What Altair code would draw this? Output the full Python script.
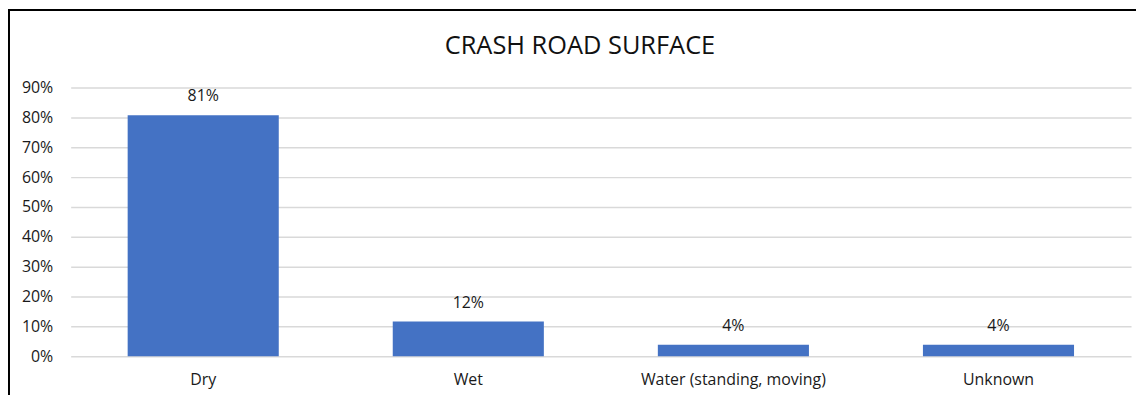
import altair as alt
import pandas as pd

title_text = "CRASH ROAD SURFACE"
categories = ["Dry", "Wet", "Water (standing, moving)", "Unknown"]
shares = [0.807, 0.116, 0.038, 0.038]
y_ticks = [0, 0.1, 0.2, 0.3, 0.4, 0.5, 0.6, 0.7, 0.8, 0.9]

df = pd.DataFrame({"surface": categories, "share": shares})
tdf = pd.DataFrame({"t": [title_text]})

FONT = "Open Sans"
TXT = "#1a1a1a"

x_enc = alt.X(
    "surface:N",
    sort=categories,
    scale=alt.Scale(paddingInner=0.43, paddingOuter=0.215),
    axis=alt.Axis(
        title=None, labelAngle=0, domain=False, ticks=False, labelLimit=0,
        labelPadding=15, labelFont=FONT, labelFontSize=16, labelColor=TXT,
    ),
)
y_enc = alt.Y(
    "share:Q",
    scale=alt.Scale(domain=[0, 0.9], nice=False),
    axis=alt.Axis(
        title=None, values=y_ticks, format=".0%", domain=False, ticks=False,
        labelOverlap=False, labelPadding=18, labelFont=FONT, labelFontSize=16,
        labelColor=TXT, gridColor="#d9d9d9", gridWidth=1.5,
    ),
)

bars = alt.Chart(df).mark_bar(color="#4472C4").encode(x=x_enc, y=y_enc)

labels = alt.Chart(df).mark_text(
    font=FONT, fontSize=16, color=TXT, baseline="alphabetic", dy=-14
).encode(
    x=x_enc,
    y=y_enc,
    text=alt.Text("share:Q", format=".0%"),
)

title = alt.Chart(tdf).mark_text(
    font=FONT, fontSize=25.5, color="#111111", align="center", baseline="alphabetic"
).encode(x=alt.value(512), y=alt.value(-34), text="t:N")

border_left = alt.Chart(tdf).mark_rule(color="black", strokeWidth=2, clip=False).encode(
    x=alt.value(-62), y=alt.value(-79), y2=alt.value(320)
)
border_top = alt.Chart(tdf).mark_rule(color="black", strokeWidth=2, clip=False).encode(
    x=alt.value(-63), x2=alt.value(1075), y=alt.value(-78)
)

chart = alt.layer(bars, labels, title, border_left, border_top).properties(
    width=1066,
    height=270,
    padding={"left": 63, "top": 79, "right": 5, "bottom": 38},
    autosize=alt.AutoSizeParams(type="none"),
).configure_view(stroke=None)

chart.save("out.html", embed_options={"renderer": "svg", "actions": False})
